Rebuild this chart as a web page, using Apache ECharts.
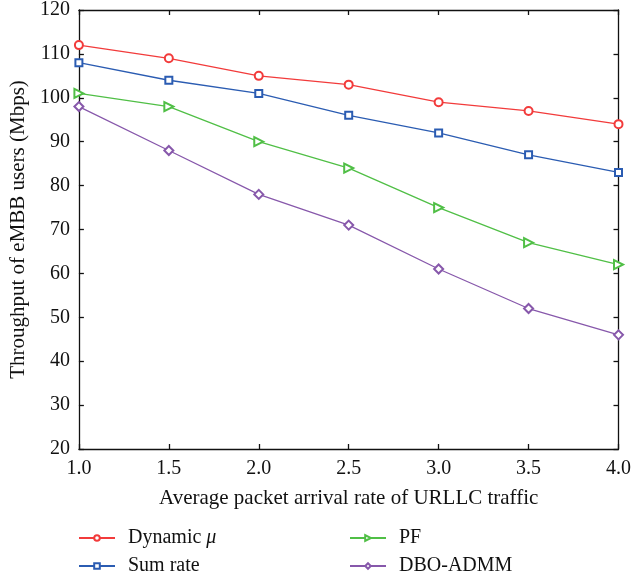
<!DOCTYPE html>
<html>
<head>
<meta charset="utf-8">
<script src="https://cdn.jsdelivr.net/npm/echarts@6/dist/echarts.min.js"></script>
<style>
  html, body { margin: 0; padding: 0; background: #fff; }
  #chart { width: 634px; height: 577px; }
</style>
</head>
<body>
<div id="chart"></div>
<script>
// Packet arrival rate of URLLC traffic (x axis)
const arrivalRates = [1.0, 1.5, 2.0, 2.5, 3.0, 3.5, 4.0];

// eMBB throughput (Mbps) per scheme
const dynamicMu = [112, 109, 105, 103, 99, 97, 94];
const sumRate   = [108, 104, 101, 96, 92, 87, 83];
const pf        = [101, 98, 90, 84, 75, 67, 62];
const dboAdmm   = [98, 88, 78, 71, 61, 52, 46];

const FONT = '"Liberation Serif", "DejaVu Serif", serif';

function pairs(ys) {
  return arrivalRates.map((x, i) => [x, ys[i]]);
}

function lineSeries(name, ys, color, symbol, size, rotate) {
  return {
    name: name,
    type: 'line',
    data: pairs(ys),
    symbol: symbol,
    symbolSize: size,
    symbolRotate: rotate || 0,
    showAllSymbol: true,
    lineStyle: { color: color, width: 1.3 },
    itemStyle: { color: color, borderColor: color, borderWidth: 1.3 },
    emphasis: { disabled: true },
    animation: false
  };
}

// one legend entry placed at a fixed spot (two columns, two rows)
function legendEntry(name, left, top) {
  return {
    data: [name],
    left: left, top: top,
    itemWidth: 36, itemHeight: 7,
    // the Greek mu is set in italics, as a math symbol
    formatter: n => n.replace('\u03bc', '{i|\u03bc}'),
    textStyle: {
      color: '#111', fontSize: 20, fontFamily: FONT, padding: [0, 0, 0, 8],
      rich: { i: { fontStyle: 'italic', fontSize: 20, fontFamily: FONT, color: '#111' } }
    }
  };
}

const axisLine = { show: true, lineStyle: { color: '#111', width: 1.3 } };
const axisTick = { show: true, inside: true, length: 5, lineStyle: { color: '#111', width: 1.3 } };

const chart = echarts.init(document.getElementById('chart'));
chart.setOption({
  backgroundColor: '#fff',
  textStyle: { fontFamily: FONT },
  grid: { left: 77, right: 12, top: 10, bottom: 128 },
  xAxis: [
    {
      type: 'value', min: 1, max: 4, interval: 0.5, position: 'bottom',
      axisLine: axisLine, axisTick: axisTick, splitLine: { show: false },
      axisLabel: { color: '#111', fontSize: 20, fontFamily: FONT, margin: 10,
        formatter: v => v.toFixed(1) },
      name: 'Average packet arrival rate of URLLC traffic',
      nameLocation: 'middle', nameGap: 39,
      nameTextStyle: { color: '#111', fontSize: 21, fontFamily: FONT }
    },
    {
      type: 'value', min: 1, max: 4, interval: 0.5, position: 'top',
      axisLine: axisLine, axisTick: axisTick, splitLine: { show: false },
      axisLabel: { show: false }
    }
  ],
  yAxis: [
    {
      type: 'value', min: 20, max: 120, interval: 10, position: 'left',
      axisLine: axisLine, axisTick: axisTick, splitLine: { show: false },
      axisLabel: { color: '#111', fontSize: 20, fontFamily: FONT, margin: 9 },
      name: 'Throughput of eMBB users (Mbps)',
      nameLocation: 'middle', nameGap: 46, nameRotate: 90,
      nameTextStyle: { color: '#111', fontSize: 21, fontFamily: FONT }
    },
    {
      type: 'value', min: 20, max: 120, interval: 10, position: 'right',
      axisLine: axisLine, axisTick: axisTick, splitLine: { show: false },
      axisLabel: { show: false }
    }
  ],
  legend: [
    legendEntry('Dynamic \u03bc', 73, 523),
    legendEntry('Sum rate', 73, 551),
    legendEntry('PF', 344, 523),
    legendEntry('DBO-ADMM', 344, 551)
  ],
  series: [
    lineSeries('Dynamic \u03bc', dynamicMu, '#f23b3b', 'emptyCircle', 8),
    lineSeries('Sum rate', sumRate, '#2b5cb2', 'emptyRect', 7),
    lineSeries('PF', pf, '#50bf46', 'emptyTriangle', 9, -90),
    lineSeries('DBO-ADMM', dboAdmm, '#8758ab', 'emptyDiamond', 9)
  ]
});
</script>
</body>
</html>
